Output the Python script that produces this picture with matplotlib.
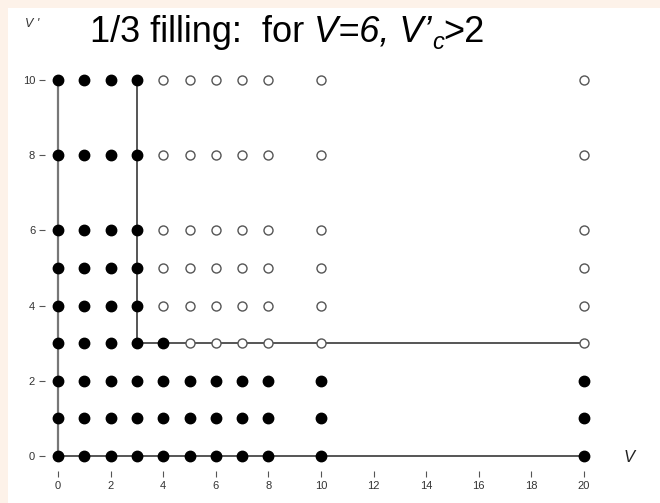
import numpy as np
import matplotlib.pyplot as plt
from matplotlib.patches import Rectangle

plt.rcParams['font.family'] = ['Liberation Sans', 'DejaVu Sans']

# grid of computed (V, V') points
v_vals = [0, 1, 2, 3, 4, 5, 6, 7, 8, 10, 20]
vp_vals = [0, 1, 2, 3, 4, 5, 6, 8, 10]
# last V that is still "filled" for each V' row
filled_upto = {0: 20, 1: 20, 2: 20, 3: 4, 4: 3, 5: 3, 6: 3, 8: 3, 10: 3}

# phase boundary segments (V, V')
boundary_left_v = [0, 0]
boundary_left_vp = [0, 10]
boundary_step_v = [3, 3, 20]
boundary_step_vp = [10, 3, 3]
baseline_v = [0, 20]
baseline_vp = [0, 0]

x_ticks = [0, 2, 4, 6, 8, 10, 12, 14, 16, 18, 20]
y_ticks = [0, 2, 4, 6, 8, 10]

fig = plt.figure(figsize=(6.6, 5.03), dpi=100)
fig.patch.set_facecolor('#fdf2e9')
fig.patches.append(Rectangle((8/660, 0), 1, 1 - 8/503, transform=fig.transFigure,
                             facecolor='white', edgecolor='none', zorder=-5))

ax = fig.add_axes([0.068, 0.0636, 0.8368, 0.807])
ax.set_facecolor('none')

ax.plot(boundary_left_v, boundary_left_vp, color='#777777', lw=1.6, zorder=1)
ax.plot(boundary_step_v, boundary_step_vp, color='#555555', lw=1.4, zorder=1)
ax.plot(baseline_v, baseline_vp, color='#555555', lw=1.4, zorder=1)

fx, fy, ox, oy = [], [], [], []
for vp in vp_vals:
    for v in v_vals:
        if v <= filled_upto[vp]:
            fx.append(v); fy.append(vp)
        else:
            ox.append(v); oy.append(vp)

ax.plot(fx, fy, 'o', color='black', ms=7.5, zorder=3)
ax.plot(ox, oy, 'o', mfc='white', mec='#555555', mew=1.0, ms=6.5, zorder=3)

ax.set_xlim(-0.5, 20.5)
ax.set_ylim(-0.4, 10.4)
for s in ax.spines.values():
    s.set_visible(False)
ax.set_xticks(x_ticks)
ax.set_yticks(y_ticks)
ax.tick_params(axis='both', length=4, width=0.8, color='#555555',
               labelsize=8, labelcolor='#333333', pad=3)

# title built from pieces so the subscript c sits right
renderer = fig.canvas.get_renderer()
pieces = [("1/3 filling:  for ", 'normal', 26, 0),
          ("V=6, V\u2019", 'italic', 26, 0),
          ("c", 'italic', 17, -7),
          (">2", 'normal', 26, 0)]
x = 90
for txt, st, size, dy in pieces:
    t = fig.text(x/660, (503 - 42 + dy)/503, txt, fontsize=size, style=st,
                 ha='left', va='baseline', color='black')
    x += t.get_window_extent(renderer).width

fig.text(25/660, 1 - 27/503, "V '", fontsize=9, style='italic', color='#333333',
         ha='left', va='baseline')
fig.text(624/660, 1 - 462/503, "V", fontsize=12, style='italic', color='#222222',
         ha='left', va='baseline')

fig.savefig('out.png', dpi=100, facecolor=fig.get_facecolor())
